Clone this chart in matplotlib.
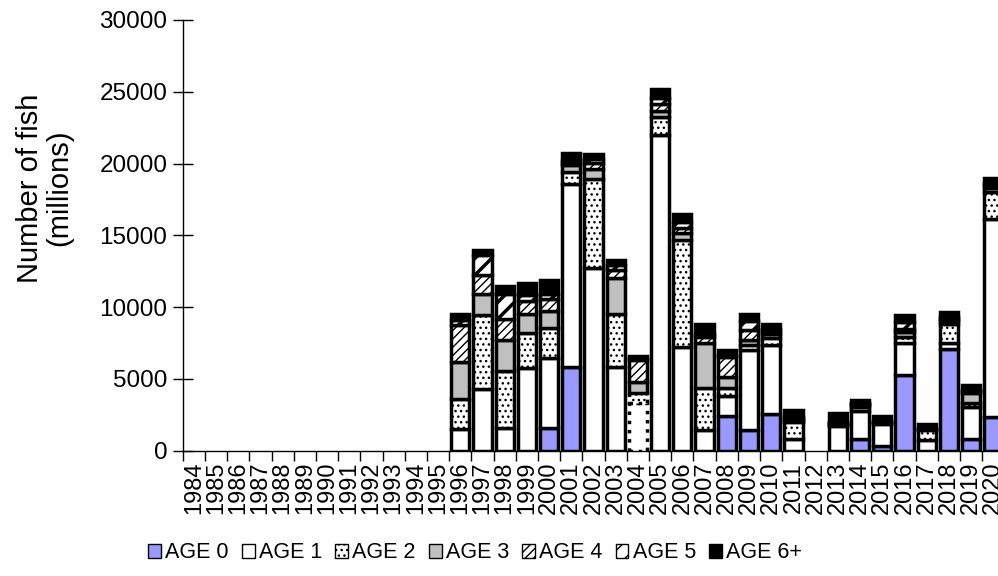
import numpy as np
import matplotlib.pyplot as plt
from matplotlib.patches import Patch

plt.rcParams['font.family'] = ['Liberation Sans', 'DejaVu Sans']

years = list(range(1984, 2021))

# millions of fish per age group, 1984 .. 2020
age0 = [0, 0, 0, 0, 0, 0, 0, 0, 0, 0, 0, 0,
        0, 0, 0, 0, 1600, 5800, 0, 0, 0, 0, 0, 0, 2450, 1450, 2550, 0, 0, 0, 800, 300, 5250, 0, 7100, 850, 2350]
age1 = [0, 0, 0, 0, 0, 0, 0, 0, 0, 0, 0, 0,
        1500, 4300, 1550, 5750, 4850, 12750, 12700, 5800, 3300, 22000, 7250, 1450, 1350, 5550, 4800, 850, 0, 1700, 2000, 1550, 2250, 750, 400, 2200, 13800]
age2 = [0, 0, 0, 0, 0, 0, 0, 0, 0, 0, 0, 0,
        2100, 5150, 4000, 2450, 2100, 850, 6250, 3750, 750, 1250, 7400, 2900, 600, 350, 500, 1150, 0, 100, 250, 50, 450, 700, 1350, 250, 1900]
age3 = [0, 0, 0, 0, 0, 0, 0, 0, 0, 0, 0, 0,
        2600, 1500, 2150, 1350, 1200, 500, 650, 2500, 750, 400, 500, 3150, 700, 350, 250, 100, 0, 50, 100, 50, 350, 50, 200, 700, 250]
age4 = [0, 0, 0, 0, 0, 0, 0, 0, 0, 0, 0, 0,
        2550, 1300, 1450, 850, 850, 150, 450, 550, 1500, 500, 350, 450, 1450, 700, 200, 100, 0, 50, 100, 50, 200, 50, 150, 150, 200]
age5 = [0, 0, 0, 0, 0, 0, 0, 0, 0, 0, 0, 0,
        350, 1350, 1800, 450, 350, 200, 300, 350, 150, 400, 400, 150, 150, 650, 150, 150, 0, 100, 100, 50, 500, 50, 100, 100, 150]
age6 = [0, 0, 0, 0, 0, 0, 0, 0, 0, 0, 0, 0,
        400, 400, 500, 850, 950, 500, 300, 350, 150, 650, 600, 700, 300, 450, 350, 500, 0, 600, 200, 350, 450, 250, 350, 300, 350]

series = [age0, age1, age2, age3, age4, age5, age6]
labels = ['AGE 0', 'AGE 1', 'AGE 2', 'AGE 3', 'AGE 4', 'AGE 5', 'AGE 6+']
colors = ['#9999ff', 'white', 'white', '#c0c0c0', 'white', 'white', 'black']
hatches = [None, None, '...', None, '////', '//', None]

fig = plt.figure(figsize=(9.98, 5.76), dpi=100)
ax = fig.add_axes([0.1831, 0.2175, 0.8233, 0.7478])

x = np.arange(len(years))
bottom = np.zeros(len(years))
containers = []
proxies = []
for vals, lab, col, hat in zip(series, labels, colors, hatches):
    vals = np.array(vals, dtype=float)
    lw_hatch = 2.5 if lab == 'AGE 5' else 1.0
    with plt.rc_context({'hatch.linewidth': lw_hatch}):
        bars = ax.bar(x, vals, bottom=bottom, width=0.82, color=col,
                      edgecolor='black', linewidth=2.5, hatch=hat)
        proxies.append(Patch(facecolor=col, edgecolor='black', linewidth=1.0,
                             hatch=hat, label=lab))
    for b, v in zip(bars, vals):
        if v == 0:
            b.set_visible(False)
    containers.append(bars)
    bottom += vals

# 2004 bar drawn with a dotted outline in the source
i04 = years.index(2004)
containers[1][i04].set_linestyle(':')
containers[2][i04].set_linestyle(':')

ax.set_xlim(-0.5, len(years) - 0.5)
ax.set_ylim(0, 30000)
ax.set_yticks(np.arange(0, 30001, 5000))
ax.tick_params(axis='y', direction='inout', length=14, width=1, labelsize=17.5, pad=4)

ax.set_xticks(np.arange(-0.5, len(years), 1.0))
ax.set_xticklabels([])
ax.tick_params(axis='x', which='major', direction='out', length=7, width=1)
ax.set_xticks(x, minor=True)
ax.set_xticklabels([str(y) for y in years], minor=True, rotation=90, fontsize=17)
ax.tick_params(axis='x', which='minor', length=0, pad=8)

for s in ['top', 'right']:
    ax.spines[s].set_visible(False)
ax.spines['left'].set_linewidth(1)
ax.spines['bottom'].set_linewidth(1)

fig.text(45 / 998, 1 - 188 / 576, 'Number of fish\n(millions)', rotation=90,
         ha='center', va='center', fontsize=21, multialignment='center', linespacing=1.05)

fig.legend(handles=proxies, loc='center', ncol=7,
           bbox_to_anchor=(0.476, 0.04), frameon=False, fontsize=15.5,
           handlelength=0.6, handleheight=0.6, handletextpad=0.2, columnspacing=0.6)

plt.savefig('out.png', dpi=100)
